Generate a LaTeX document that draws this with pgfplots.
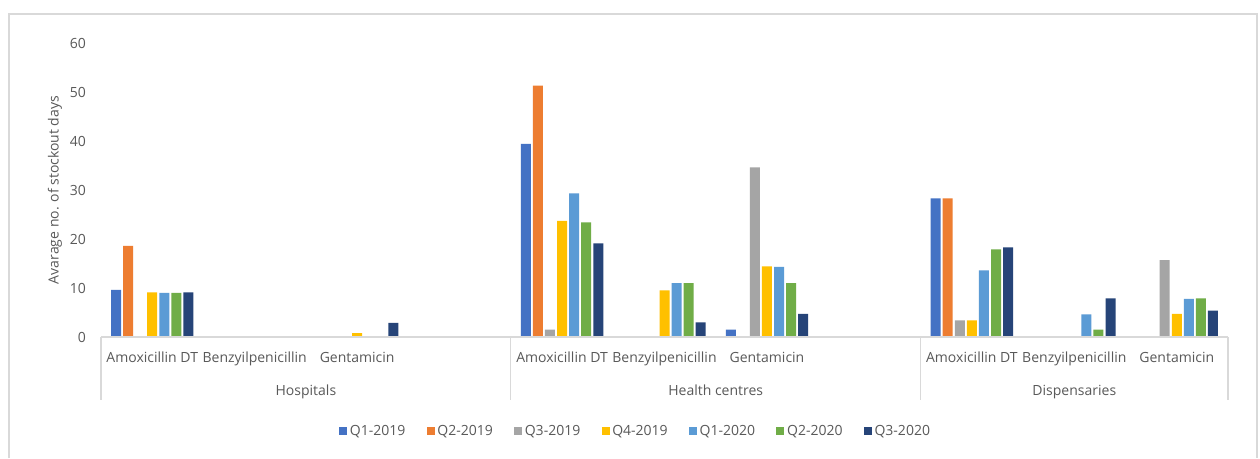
\documentclass[border=0pt]{standalone}
\usepackage{pgfplots}
\pgfplotsset{compat=1.18}
\usepackage{fontspec}
\setmainfont{Open Sans}
\definecolor{c1}{HTML}{4472C4}
\definecolor{c2}{HTML}{ED7D31}
\definecolor{c3}{HTML}{A5A5A5}
\definecolor{c4}{HTML}{FFC000}
\definecolor{c5}{HTML}{5B9BD5}
\definecolor{c6}{HTML}{70AD47}
\definecolor{c7}{HTML}{264478}
\definecolor{txt}{HTML}{595959}
\definecolor{linec}{HTML}{D9D9D9}
\newcommand{\lbl}{\fontsize{10.5}{12}\selectfont}
\begin{document}
\begin{tikzpicture}
\useasboundingbox (0,0) rectangle (945pt,343.5pt);
\fill[white] (0,0) rectangle (945pt,343.5pt);
\draw[linec,line width=1.1pt] (6.75pt,0) -- (6.75pt,333pt) -- (942.75pt,333pt) -- (942.75pt,0);
\node[rotate=90,text=txt,font=\lbl] at (41.25pt,201pt) {Avarage no. of stockout days};
\begin{axis}[
  at={(75.75pt,90.75pt)}, anchor=south west,
  scale only axis, width=845.25pt, height=220.5pt,
  xmin=-0.5, xmax=10.5, ymin=0, ymax=60,
  ybar=1.55pt, bar width=7.5pt,
  axis line style={draw=none},
  major tick length=0pt,
  tick style={draw=none},
  xtick={0,1,2,4,5,6,8,9,10},
  xticklabels={Amoxicillin DT,Benzyilpenicillin,Gentamicin,Amoxicillin DT,Benzyilpenicillin,Gentamicin,Amoxicillin DT,Benzyilpenicillin,Gentamicin},
  ytick={0,10,...,60},
  /pgf/number format/assume math mode=true,
  ticklabel style={font=\lbl, text=txt},
  yticklabel style={xshift=-7.75pt},
  xticklabel style={anchor=base, yshift=-19.3pt},
  clip=false,
  legend columns=7,
  legend style={at={(0.4747,-0.3197)}, anchor=center, draw=none, fill=none, font=\lbl, text=txt,
    /tikz/every even column/.append style={column sep=14pt}},
  legend image code/.code={\fill[#1] (0pt,-3pt) rectangle (6pt,3pt);},
]
\addplot[fill=c1,draw=none] coordinates {(0,9.6) (4,39.4) (6,1.5) (8,28.3)};
\addplot[fill=c2,draw=none] coordinates {(0,18.6) (4,51.3) (8,28.3)};
\addplot[fill=c3,draw=none] coordinates {(4,1.5) (6,34.6) (8,3.4) (10,15.7)};
\addplot[fill=c4,draw=none] coordinates {(0,9.1) (2,0.8) (4,23.7) (5,9.5) (6,14.4) (8,3.4) (10,4.7)};
\addplot[fill=c5,draw=none] coordinates {(0,9.0) (4,29.3) (5,11.0) (6,14.3) (8,13.6) (9,4.6) (10,7.8)};
\addplot[fill=c6,draw=none] coordinates {(0,9.0) (4,23.4) (5,11.0) (6,11.0) (8,17.9) (9,1.5) (10,7.9)};
\addplot[fill=c7,draw=none] coordinates {(0,9.1) (2,2.9) (4,19.1) (5,3.0) (6,4.7) (8,18.3) (9,7.9) (10,5.4)};
\legend{Q1-2019,Q2-2019,Q3-2019,Q4-2019,Q1-2020,Q2-2020,Q3-2020}
\draw[linec,line width=1pt] (axis cs:-0.5,0) -- (axis cs:10.5,0);
\draw[linec,line width=1pt] (axis cs:-0.5,0) -- ([yshift=-47.25pt]axis cs:-0.5,0);
\draw[linec,line width=1pt] (axis cs:3.5,0) -- ([yshift=-47.25pt]axis cs:3.5,0);
\draw[linec,line width=1pt] (axis cs:7.5,0) -- ([yshift=-47.25pt]axis cs:7.5,0);
\draw[linec,line width=1pt] (axis cs:10.5,0) -- ([yshift=-47.25pt]axis cs:10.5,0);
\node[anchor=base,text=txt,font=\lbl] at ([yshift=-43.5pt]axis cs:1.5,0) {Hospitals};
\node[anchor=base,text=txt,font=\lbl] at ([yshift=-43.5pt]axis cs:5.5,0) {Health centres};
\node[anchor=base,text=txt,font=\lbl] at ([yshift=-43.5pt]axis cs:9,0) {Dispensaries};
\end{axis}
\end{tikzpicture}
\end{document}
